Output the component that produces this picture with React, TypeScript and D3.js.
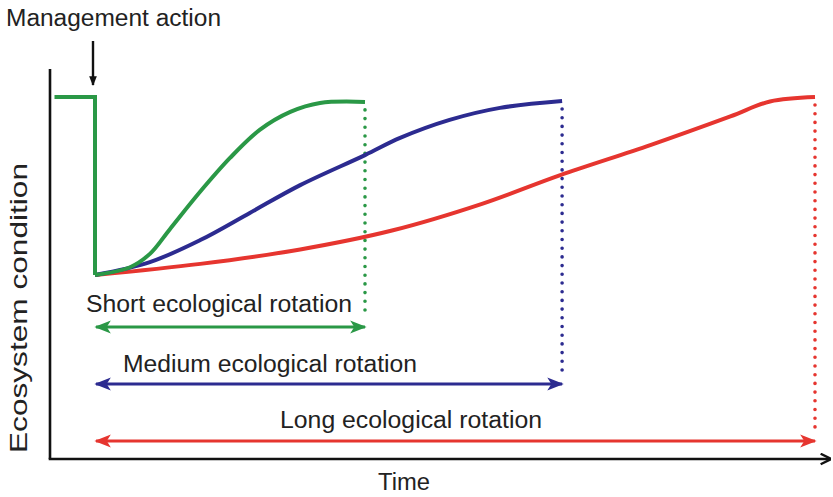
import React from "react";
import * as d3 from "d3";

// Time (arbitrary units) and ecosystem condition (arbitrary units)
const preTime = [-4.5, 0];
const preCondition = [100, 100];
const disturbedCondition = 20;

const greenTime = [0, 3.9, 6.1, 8.3, 11.7, 15, 18.3, 21.7, 25, 30];
const greenCond = [20, 23.5, 29.5, 40.5, 57.5, 72.6, 85.2, 93.3, 97.3, 97.8];

const blueTime = [0, 6.1, 11.7, 17.2, 22.8, 30, 33.9, 39.4, 45, 51.9];
const blueCond = [20, 25.8, 35.7, 47.9, 60.4, 73.9, 81.6, 89.7, 95.1, 98.2];

const redTime = [0, 11.7, 22.8, 33, 43, 51.7, 61.7, 70.6, 75, 80];
const redCond = [20, 25, 31.5, 40, 52, 64.9, 78.4, 91.3, 98, 100];

const rotationNames = ["Short ecological rotation", "Medium ecological rotation", "Long ecological rotation"];
const rotationColors = ["#2a9846", "#2c2b90", "#e6352f"];

const W = 833;
const H = 497;
const FONT = "'Liberation Sans', Arial, sans-serif";

export default function App() {
  const x = d3.scaleLinear().domain([0, 80]).range([95, 815]);
  const y = d3.scaleLinear().domain([20, 100]).range([275, 97]);

  const line = d3
    .line<[number, number]>()
    .x((d) => x(d[0]))
    .y((d) => y(d[1]))
    .curve(d3.curveCatmullRom.alpha(0.5));
  const straight = d3
    .line<[number, number]>()
    .x((d) => x(d[0]))
    .y((d) => y(d[1]));

  const series = [
    { t: greenTime, c: greenCond },
    { t: blueTime, c: blueCond },
    { t: redTime, c: redCond },
  ];

  // layout for rotation arrows/labels
  const arrowY = [327, 384, 441];
  const labelPos = [
    { x: 86, y: 312, w: 266 },
    { x: 123, y: 372, w: 294 },
    { x: 280, y: 428, w: 262 },
  ];

  const axisX = 50;
  const axisY = 459;

  const prePts: [number, number][] = [
    [preTime[0], preCondition[0]],
    [preTime[1], preCondition[1]],
    [preTime[1], disturbedCondition],
  ];

  return (
    <svg
      width={W}
      height={H}
      style={{ position: "absolute", left: 0, top: 0, display: "block", background: "#fff" }}
    >
      <defs>
        {rotationColors.map((col, i) => (
          <marker
            key={i}
            id={`ah${i}`}
            viewBox="0 0 10 10"
            refX="9"
            refY="5"
            markerWidth="5.5"
            markerHeight="5.5"
            markerUnits="strokeWidth"
            orient="auto-start-reverse"
          >
            <path d="M0,1 L10,5 L0,9 L2.5,5 Z" fill={col} />
          </marker>
        ))}
        <marker
          id="ahk"
          viewBox="0 0 10 10"
          refX="9"
          refY="5"
          markerWidth="4.5"
          markerHeight="5"
          markerUnits="strokeWidth"
          orient="auto-start-reverse"
        >
          <path d="M1,0.5 L10,5 L1,9.5" fill="none" stroke="#111" strokeWidth="2" />
        </marker>
        <marker
          id="ahd"
          viewBox="0 0 10 10"
          refX="9"
          refY="5"
          markerWidth="4"
          markerHeight="4"
          markerUnits="strokeWidth"
          orient="auto"
        >
          <path d="M0,1 L10,5 L0,9 Z" fill="#111" />
        </marker>
      </defs>

      {/* axes */}
      <line x1={axisX} y1={69} x2={axisX} y2={axisY} stroke="#111" strokeWidth={2.6} />
      <line
        x1={axisX - 1.3}
        y1={axisY}
        x2={830}
        y2={axisY}
        stroke="#111"
        strokeWidth={2.6}
        markerEnd="url(#ahk)"
      />

      {/* management action */}
      <text x={6} y={26} fontFamily={FONT} fontSize={23} fill="#222" textLength={215} lengthAdjust="spacingAndGlyphs">
        Management action
      </text>
      <line x1={93} y1={41} x2={93} y2={85} stroke="#111" strokeWidth={2.4} markerEnd="url(#ahd)" />

      {/* dotted verticals */}
      {series.map((s, i) => {
        const endT = s.t[s.t.length - 1];
        const endC = s.c[s.c.length - 1];
        return (
          <line
            key={`v${i}`}
            x1={x(endT)}
            y1={y(endC) + 8}
            x2={x(endT)}
            y2={arrowY[i] - 9}
            stroke={rotationColors[i]}
            strokeWidth={3.6}
            strokeDasharray="0 8.7"
            strokeLinecap="round"
          />
        );
      })}

      {/* curves */}
      {[2, 1, 0].map((i) => {
        const s = series[i];
        const pts = s.t.map((t, k) => [t, s.c[k]] as [number, number]);
        return (
          <path
            key={`c${i}`}
            d={line(pts) || ""}
            fill="none"
            stroke={rotationColors[i]}
            strokeWidth={4}
            strokeLinecap="butt"
          />
        );
      })}
      <path
        d={straight(prePts) || ""}
        fill="none"
        stroke={rotationColors[0]}
        strokeWidth={4}
        strokeLinejoin="miter"
      />

      {/* rotation arrows */}
      {series.map((s, i) => {
        const endT = s.t[s.t.length - 1];
        return (
          <line
            key={`a${i}`}
            x1={x(0) + 1}
            y1={arrowY[i]}
            x2={x(endT)}
            y2={arrowY[i]}
            stroke={rotationColors[i]}
            strokeWidth={3}
            markerStart={`url(#ah${i})`}
            markerEnd={`url(#ah${i})`}
          />
        );
      })}

      {/* labels */}
      {rotationNames.map((n, i) => (
        <text
          key={`l${i}`}
          x={labelPos[i].x}
          y={labelPos[i].y}
          fontFamily={FONT}
          fontSize={23}
          fill="#222"
          textLength={labelPos[i].w}
          lengthAdjust="spacingAndGlyphs"
        >
          {n}
        </text>
      ))}

      <text x={378} y={490} fontFamily={FONT} fontSize={23} fill="#222" textLength={52} lengthAdjust="spacingAndGlyphs">
        Time
      </text>
      <text
        transform="translate(27,453) rotate(-90)"
        fontFamily={FONT}
        fontSize={24}
        fill="#222"
        textLength={290}
        lengthAdjust="spacingAndGlyphs"
      >
        Ecosystem condition
      </text>
    </svg>
  );
}
